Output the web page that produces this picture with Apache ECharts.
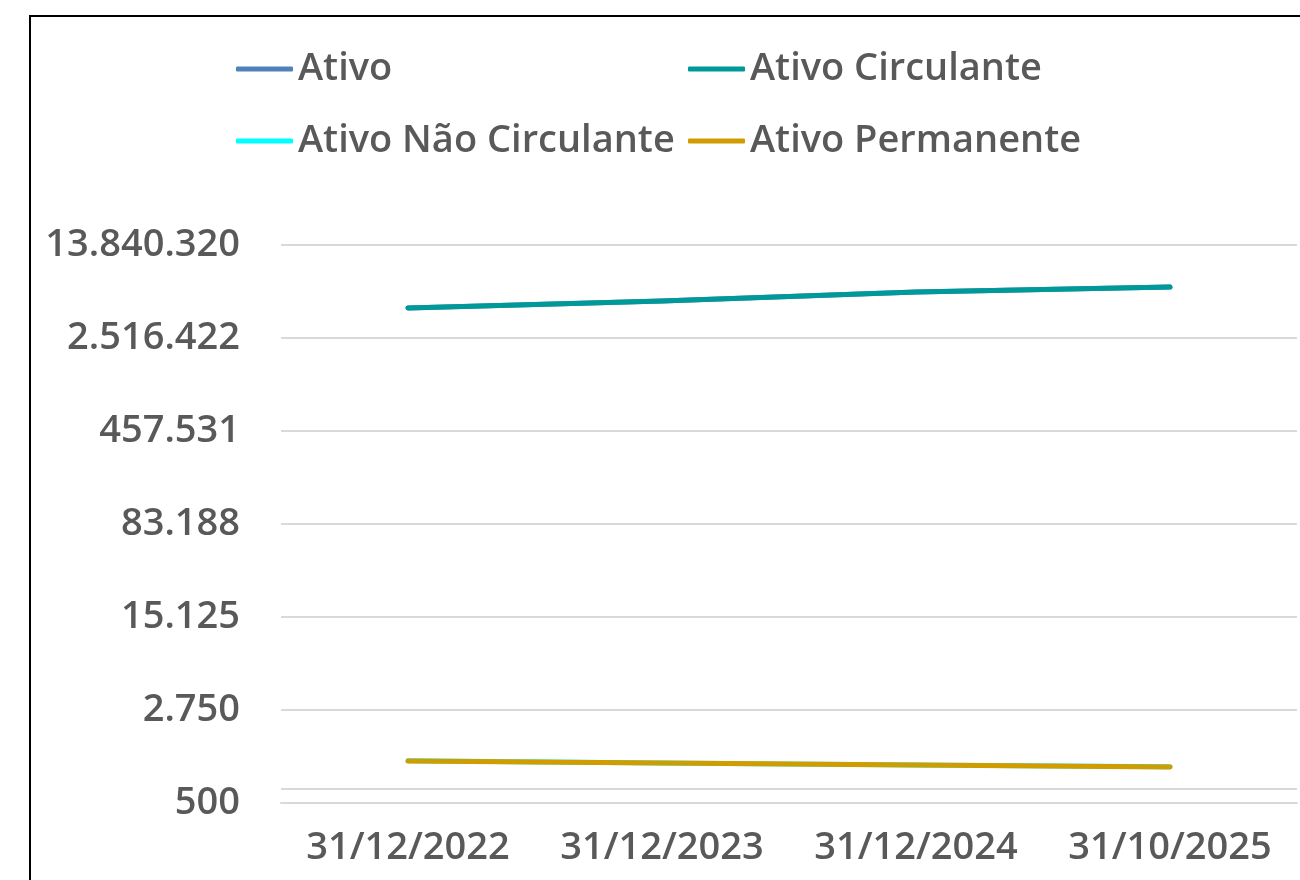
<!DOCTYPE html>
<html>
<head>
<meta charset="utf-8">
<script src="https://cdn.jsdelivr.net/npm/echarts@6/dist/echarts.min.js"></script>
<style>
    html, body { margin: 0; padding: 0; background: #ffffff; }
    #chart-container { width: 1300px; height: 880px; }
</style>
</head>
<body>
<div id="chart-container"></div>
<script>
    // datas do balanço
    const categories = ['31/12/2022', '31/12/2023', '31/12/2024', '31/10/2025'];
    const ativoCirculante = [4364000, 4960000, 5851000, 6405000];
    const ativoNaoCirculante = [1085, 1043, 1005, 972];
    const ativoPermanente = [1078, 1040, 1002, 966];
    const ativo = [4365085, 4961043, 5852005, 6405972];
    // eixo log base 5,5 a partir de 500
    const tickLabels = ['500', '2.750', '15.125', '83.188', '457.531', '2.516.422', '13.840.320'];
    const logMin = 500;
    const logBase = 5.5;

    const toLog = v => Math.log(v / logMin) / Math.log(logBase);
    const textColor = '#595959';
    const fontFamily = '"Open Sans", sans-serif';

    const dom = document.getElementById('chart-container');
    const myChart = echarts.init(dom, null, { renderer: 'canvas' });

    const lineSeries = (name, values, color, z) => ({
        name: name,
        type: 'line',
        data: values.map(toLog),
        symbol: 'none',
        z: z,
        lineStyle: { width: 5, color: color, cap: 'round', join: 'round' },
        itemStyle: { color: color }
    });

    const legendText = {
        color: textColor,
        fontSize: 38,
        fontWeight: 600,
        fontFamily: fontFamily
    };

    const option = {
        animation: false,
        backgroundColor: '#ffffff',
        legend: [{
            orient: 'vertical',
            left: 231,
            top: 45,
            itemGap: 34,
            itemWidth: 57,
            itemHeight: 5,
            icon: 'roundRect',
            data: ['Ativo', 'Ativo Não Circulante'],
            textStyle: legendText
        }, {
            orient: 'vertical',
            left: 683,
            top: 45,
            itemGap: 34,
            itemWidth: 57,
            itemHeight: 5,
            icon: 'roundRect',
            data: ['Ativo Circulante', 'Ativo Permanente'],
            textStyle: legendText
        }],
        grid: {
            left: 281,
            right: 3,
            top: 245,
            bottom: 77,
            containLabel: false
        },
        xAxis: {
            type: 'category',
            data: categories,
            boundaryGap: true,
            axisTick: { show: false },
            axisLine: { show: true, lineStyle: { color: '#d9d9d9', width: 2 } },
            axisLabel: {
                color: textColor,
                fontSize: 38,
                fontWeight: 600,
                fontFamily: fontFamily,
                margin: 26,
                interval: 0
            }
        },
        yAxis: {
            type: 'value',
            min: 0,
            max: tickLabels.length - 1,
            interval: 1,
            axisLine: { show: false },
            axisTick: { show: false },
            splitLine: { lineStyle: { color: '#d9d9d9', width: 2 } },
            axisLabel: {
                color: textColor,
                fontSize: 38,
                fontWeight: 600,
                fontFamily: fontFamily,
                margin: 41,
                formatter: v => tickLabels[Math.round(v)]
            }
        },
        graphic: [{
            type: 'rect',
            shape: { x: 30, y: 16, width: 1400, height: 1000 },
            style: { fill: 'none', stroke: '#000000', lineWidth: 2 },
            silent: true
        }],
        series: [
            lineSeries('Ativo', ativo, '#4f81bd', 2),
            Object.assign(lineSeries('Ativo Circulante', ativoCirculante, '#009999', 3), {
                // linha extra logo acima do eixo
                markLine: {
                    silent: true,
                    symbol: ['none', 'none'],
                    label: { show: false },
                    emphasis: { disabled: true },
                    lineStyle: { color: '#d9d9d9', width: 2, type: 'solid' },
                    data: [[{ xAxis: 0, yAxis: 0.15, x: 281 }, { yAxis: 0.15, x: 1297 }]]
                }
            }),
            lineSeries('Ativo Não Circulante', ativoNaoCirculante, '#00ffff', 4),
            lineSeries('Ativo Permanente', ativoPermanente, '#d09c00', 5)
        ]
    };
    myChart.setOption(option);
</script>
</body>
</html>
